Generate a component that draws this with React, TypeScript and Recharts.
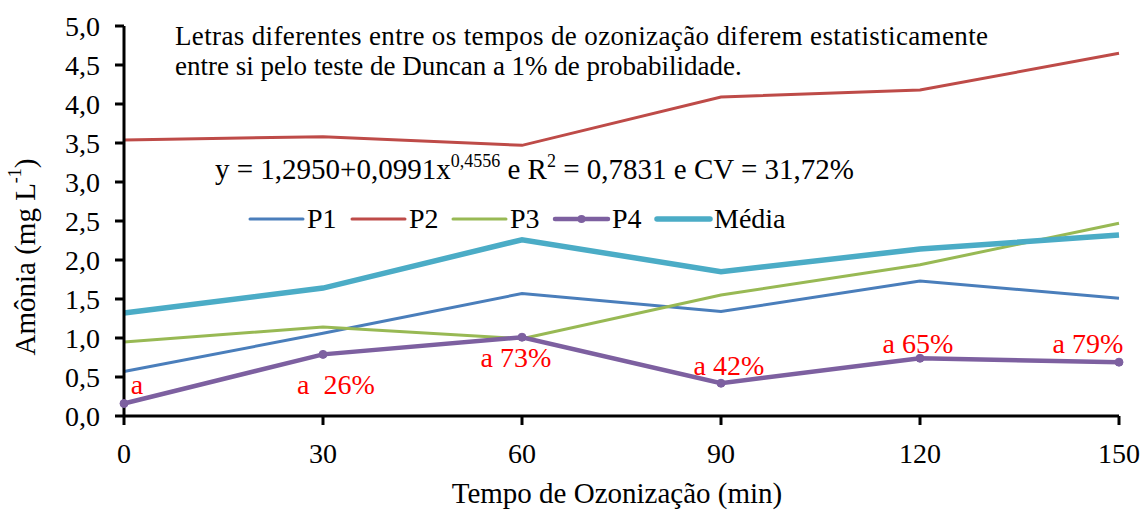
import { LineChart, Line, XAxis, YAxis, LabelList } from 'recharts';

const times = [0, 30, 60, 90, 120, 150];
const p1 = [0.57, 1.06, 1.57, 1.34, 1.73, 1.51];
const p2 = [3.54, 3.58, 3.47, 4.09, 4.18, 4.65];
const p3 = [0.95, 1.14, 0.99, 1.55, 1.94, 2.47];
const p4 = [0.16, 0.79, 1.01, 0.42, 0.74, 0.69];
const media = [1.32, 1.64, 2.26, 1.85, 2.14, 2.32];
const p4Labels = ['a', 'a\u00a0 26%', 'a 73%', 'a 42%', 'a 65%', 'a 79%'];
const xTicks = [0, 30, 60, 90, 120, 150];
const yTicks = [0, 0.5, 1, 1.5, 2, 2.5, 3, 3.5, 4, 4.5, 5];

// label placement relative to each P4 point
const labelOffsets = [
  { dx: 13, dy: -10 },
  { dx: 13, dy: 40 },
  { dx: -6, dy: 30 },
  { dx: 8, dy: -8 },
  { dx: -2, dy: -5 },
  { dx: -31, dy: -9 },
];

const series = [
  { key: 'p1', name: 'P1', color: '#4A7EBB', width: 3, dot: false },
  { key: 'p2', name: 'P2', color: '#BE4B48', width: 3, dot: false },
  { key: 'p3', name: 'P3', color: '#98B954', width: 3, dot: false },
  { key: 'p4', name: 'P4', color: '#7D60A0', width: 4.5, dot: true },
  { key: 'media', name: 'Média', color: '#4BACC6', width: 5.5, dot: false },
];

const data = times.map((t, i) => ({
  t,
  p1: p1[i],
  p2: p2[i],
  p3: p3[i],
  p4: p4[i],
  media: media[i],
  lbl: p4Labels[i],
}));

const FONT = '"Liberation Serif", "Times New Roman", serif';
const fmt = (v: number) => v.toFixed(1).replace('.', ',');

// legend item x positions (line start)
const legendX = [250, 352, 453, 555, 657];

const renderP4Label = (props: any) => {
  const { x, y, index, value } = props;
  const o = labelOffsets[index] || { dx: 0, dy: 0 };
  return (
    <text x={x + o.dx} y={y + o.dy} textAnchor="middle" fill="#FF0000" fontSize={28} fontFamily={FONT} style={{ whiteSpace: 'pre' }}>
      {value}
    </text>
  );
};

export default function App() {
  return (
    <div style={{ position: 'absolute', left: 0, top: 0, background: '#fff' }}>
      <LineChart width={1143} height={511} data={data} margin={{ top: 26, right: 24, left: 0, bottom: 0 }}>
        <XAxis
          dataKey="t"
          type="number"
          domain={[0, 150]}
          ticks={xTicks}
          height={95}
          tickSize={9}
          tickMargin={18}
          axisLine={{ stroke: '#000', strokeWidth: 3 }}
          tickLine={{ stroke: '#000', strokeWidth: 3 }}
          tick={{ fill: '#000', fontSize: 28, fontFamily: FONT }}
        />
        <YAxis
          type="number"
          domain={[0, 5]}
          ticks={yTicks}
          width={124}
          tickSize={9}
          tickMargin={15}
          tickFormatter={fmt}
          axisLine={{ stroke: '#000', strokeWidth: 3 }}
          tickLine={{ stroke: '#000', strokeWidth: 3 }}
          tick={{ fill: '#000', fontSize: 28, fontFamily: FONT }}
        />
        {series.map((s) => (
          <Line
            key={s.key}
            dataKey={s.key}
            name={s.name}
            stroke={s.color}
            strokeWidth={s.width}
            dot={s.dot ? { r: 4, fill: s.color, stroke: s.color, strokeWidth: 1 } : false}
            activeDot={false}
            isAnimationActive={false}
          >
            {s.key === 'p4' && <LabelList dataKey="lbl" content={renderP4Label} />}
          </Line>
        ))}

        <text x={175} y={45} fontSize={27} fontFamily={FONT} fill="#000" textLength={813} lengthAdjust="spacing">
          Letras diferentes entre os tempos de ozonização diferem estatisticamente
        </text>
        <text x={175} y={75} fontSize={27} fontFamily={FONT} fill="#000">
          entre si pelo teste de Duncan a 1% de probabilidade.
        </text>

        <text x={215} y={179} fontSize={29} fontFamily={FONT} fill="#000">
          y = 1,2950+0,0991x
          <tspan dy={-12} fontSize={18}>0,4556</tspan>
          <tspan dy={12} fontSize={29}> e R</tspan>
          <tspan dy={-12} fontSize={18}>2</tspan>
          <tspan dy={12} fontSize={29}> = 0,7831 e CV = 31,72%</tspan>
        </text>

        {series.map((s, i) => (
          <g key={`leg-${s.key}`}>
            <line x1={legendX[i]} x2={legendX[i] + 53} y1={219} y2={219} stroke={s.color} strokeWidth={s.width} strokeLinecap="round" />
            {s.dot && <circle cx={legendX[i] + 26.5} cy={219} r={4} fill={s.color} />}
            <text x={legendX[i] + 57} y={228} fontSize={28} fontFamily={FONT} fill="#000">
              {s.name}
            </text>
          </g>
        ))}

        <text
          x={25}
          y={257}
          transform="rotate(-90 25 257)"
          textAnchor="middle"
          dominantBaseline="central"
          fontSize={29}
          fontFamily={FONT}
          fill="#000"
        >
          Amônia (mg L
          <tspan dy={-10} fontSize={18}>-1</tspan>
          <tspan dy={10} fontSize={29}>)</tspan>
        </text>

        <text x={617} y={503} textAnchor="middle" fontSize={29} fontFamily={FONT} fill="#000">
          Tempo de Ozonização (min)
        </text>
      </LineChart>
    </div>
  );
}
